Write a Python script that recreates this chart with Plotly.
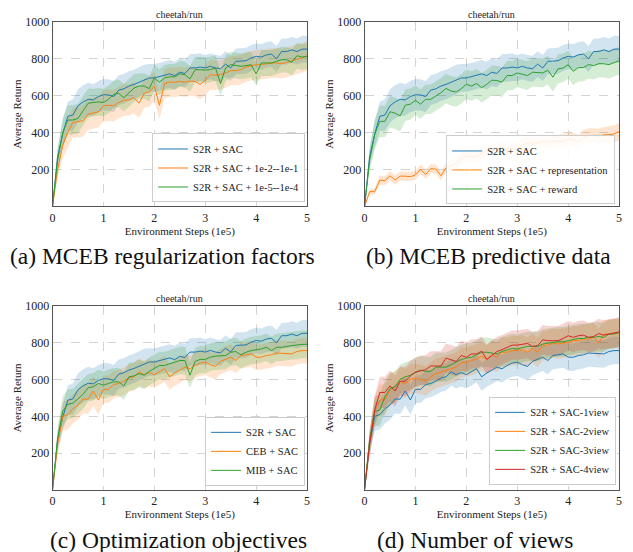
import plotly.graph_objects as go

steps = [0.0, 0.1, 0.2, 0.3, 0.4, 0.5, 0.6, 0.7, 0.8, 0.9, 1.0, 1.1, 1.2, 1.3, 1.4, 1.5, 1.6, 1.7, 1.8, 1.9,
         2.0, 2.1, 2.2, 2.3, 2.4, 2.5, 2.6, 2.7, 2.8, 2.9, 3.0, 3.1, 3.2, 3.3, 3.4, 3.5, 3.6, 3.7, 3.8, 3.9,
         4.0, 4.1, 4.2, 4.3, 4.4, 4.5, 4.6, 4.7, 4.8, 4.9, 5.0]

s2r_mean = [0, 270, 393, 488, 495, 545, 566, 580, 577, 595, 605, 604, 595, 630, 637, 652, 661, 673, 688, 696,
            696, 702, 711, 718, 709, 727, 720, 750, 750, 755, 750, 759, 750, 746, 771, 750, 786, 789, 789, 804,
            813, 809, 821, 825, 800, 839, 839, 848, 839, 852, 852]
s2r_std = [0, 50, 70, 80, 85, 90, 90, 90, 85, 85, 85, 85, 85, 80, 80, 80, 80, 80, 80, 75,
           75, 75, 75, 75, 75, 75, 75, 75, 75, 75, 70, 70, 70, 70, 70, 70, 70, 70, 70, 70,
           70, 70, 70, 70, 70, 70, 70, 70, 70, 72, 72]
reg_hi_mean = [0, 200, 330, 402, 455, 459, 464, 500, 505, 512, 545, 548, 545, 563, 575, 577, 589, 559, 613, 620,
               652, 548, 666, 673, 673, 677, 673, 679, 677, 661, 684, 714, 711, 714, 723, 736, 736, 741, 755, 763,
               768, 768, 773, 777, 777, 773, 780, 791, 798, 804, 816]
reg_hi_std = [0, 50, 70, 80, 80, 85, 85, 85, 85, 85, 85, 85, 85, 85, 85, 85, 85, 80, 80, 80,
              80, 75, 80, 80, 80, 80, 80, 80, 80, 80, 80, 80, 80, 80, 80, 80, 80, 80, 80, 80,
              80, 80, 80, 80, 80, 80, 80, 80, 80, 80, 80]
reg_lo_mean = [0, 250, 400, 468, 468, 477, 518, 559, 563, 566, 563, 580, 607, 613, 589, 613, 641, 652, 652, 638,
               696, 673, 696, 702, 702, 718, 714, 691, 741, 741, 738, 741, 750, 666, 750, 768, 763, 759, 763, 768,
               718, 777, 777, 777, 786, 795, 795, 780, 816, 809, 813]
reg_lo_std = [0, 60, 80, 80, 80, 80, 80, 80, 75, 75, 75, 75, 75, 75, 75, 75, 75, 70, 70, 70,
              70, 70, 70, 70, 70, 70, 70, 70, 70, 70, 70, 70, 70, 66, 70, 70, 70, 70, 70, 70,
              60, 70, 70, 70, 70, 70, 70, 70, 70, 70, 70]
rep_mean = [0, 80, 80, 143, 139, 166, 143, 164, 164, 161, 170, 202, 173, 205, 202, 166, 209, 223, 232, 259,
            271, 268, 268, 286, 304, 300, 316, 318, 309, 316, 309, 334, 343, 343, 343, 354, 348, 355, 352, 354,
            366, 363, 348, 375, 384, 384, 380, 388, 388, 393, 405]
rep_std = [0, 15, 20, 25, 25, 25, 25, 25, 25, 25, 25, 25, 25, 25, 25, 25, 25, 28, 28, 30,
           30, 30, 30, 30, 30, 30, 30, 30, 30, 30, 30, 32, 32, 32, 32, 35, 35, 35, 35, 35,
           35, 38, 38, 40, 40, 40, 42, 42, 45, 45, 48]
rew_mean = [0, 250, 390, 461, 461, 513, 505, 491, 548, 554, 575, 554, 580, 580, 598, 616, 639, 625, 620, 638,
            661, 652, 666, 643, 661, 684, 682, 673, 709, 709, 723, 718, 709, 727, 727, 723, 738, 700, 745, 750,
            768, 732, 752, 752, 768, 763, 773, 773, 768, 777, 789]
rew_std = [0, 60, 80, 85, 85, 85, 85, 85, 85, 85, 80, 80, 80, 80, 80, 80, 80, 80, 80, 80,
           80, 80, 80, 80, 80, 80, 80, 80, 80, 80, 78, 78, 78, 78, 78, 78, 78, 78, 78, 78,
           75, 75, 75, 75, 75, 75, 75, 75, 75, 75, 75]
ceb_mean = [0, 250, 400, 409, 441, 462, 495, 493, 538, 489, 547, 547, 573, 579, 591, 609, 615, 642, 627, 638,
            627, 642, 659, 615, 636, 651, 668, 659, 677, 690, 695, 681, 672, 699, 710, 722, 704, 731, 735, 740,
            722, 722, 731, 735, 745, 744, 744, 740, 753, 758, 758]
ceb_std = [0, 60, 80, 80, 80, 80, 80, 80, 80, 80, 75, 75, 75, 75, 75, 75, 75, 75, 75, 75,
           70, 70, 70, 70, 70, 70, 70, 70, 70, 70, 70, 70, 70, 70, 70, 70, 70, 70, 70, 70,
           70, 70, 70, 70, 70, 70, 70, 70, 70, 70, 70]
mib_mean = [0, 280, 427, 466, 471, 498, 520, 556, 561, 579, 570, 579, 588, 588, 565, 615, 620, 633, 624, 645,
            659, 677, 677, 686, 695, 704, 704, 624, 699, 710, 710, 722, 728, 728, 731, 749, 753, 735, 749, 758,
            762, 767, 776, 758, 776, 776, 781, 785, 788, 792, 792]
mib_std = [0, 60, 80, 80, 80, 80, 80, 75, 75, 75, 75, 75, 75, 75, 75, 75, 75, 75, 75, 75,
           75, 75, 75, 75, 75, 75, 75, 70, 75, 75, 75, 75, 75, 75, 75, 75, 75, 75, 75, 75,
           75, 75, 75, 75, 75, 75, 75, 75, 75, 75, 75]
v1_mean = ceb_mean
v1_std = [0, 60, 80, 80, 80, 80, 80, 80, 80, 80, 75, 75, 75, 75, 75, 75, 75, 75, 75, 75,
          75, 75, 75, 75, 75, 75, 75, 75, 75, 75, 75, 75, 75, 75, 75, 75, 75, 75, 75, 75,
          75, 75, 75, 75, 75, 75, 75, 75, 75, 75, 75]
v2_mean = [0, 270, 427, 489, 490, 543, 561, 588, 579, 602, 606, 602, 591, 615, 633, 642, 651, 659, 668, 692,
           695, 704, 713, 728, 710, 735, 722, 749, 749, 758, 758, 763, 749, 770, 749, 785, 788, 799, 794, 799,
           803, 812, 812, 821, 821, 830, 799, 848, 848, 853, 848]
v3_mean = [0, 270, 427, 434, 507, 552, 561, 602, 615, 624, 638, 651, 645, 645, 668, 668, 668, 681, 695, 710,
           717, 722, 735, 749, 749, 745, 740, 753, 763, 770, 767, 776, 781, 781, 781, 794, 799, 803, 806, 806,
           812, 821, 824, 824, 830, 830, 835, 830, 848, 848, 857]
v4_mean = [0, 250, 434, 530, 530, 566, 538, 591, 591, 620, 642, 649, 654, 674, 672, 674, 717, 710, 699, 731,
           722, 740, 740, 755, 710, 731, 753, 763, 776, 788, 788, 794, 797, 781, 785, 817, 812, 812, 812, 824,
           839, 830, 839, 842, 830, 835, 851, 842, 848, 857, 860]
vx_std = [0, 60, 80, 85, 85, 85, 85, 80, 80, 80, 80, 80, 80, 80, 80, 80, 80, 80, 80, 80,
          80, 80, 80, 80, 80, 80, 80, 80, 80, 80, 80, 80, 80, 80, 80, 80, 80, 80, 80, 80,
          80, 80, 80, 80, 80, 80, 80, 80, 80, 80, 80]

BLUE, ORANGE, GREEN, RED = "#1f77b4", "#ff7f0e", "#2ca02c", "#d62728"
FONT = "Liberation Serif"

panels = [
    ("x", "y", "legend", [("S2R + SAC", s2r_mean, s2r_std, BLUE),
                          ("S2R + SAC + 1e-2--1e-1", reg_hi_mean, reg_hi_std, ORANGE),
                          ("S2R + SAC + 1e-5--1e-4", reg_lo_mean, reg_lo_std, GREEN)]),
    ("x2", "y2", "legend2", [("S2R + SAC", s2r_mean, s2r_std, BLUE),
                             ("S2R + SAC + representation", rep_mean, rep_std, ORANGE),
                             ("S2R + SAC + reward", rew_mean, rew_std, GREEN)]),
    ("x3", "y3", "legend3", [("S2R + SAC", s2r_mean, s2r_std, BLUE),
                             ("CEB + SAC", ceb_mean, ceb_std, ORANGE),
                             ("MIB + SAC", mib_mean, mib_std, GREEN)]),
    ("x4", "y4", "legend4", [("S2R + SAC-1view", v1_mean, v1_std, BLUE),
                             ("S2R + SAC-2view", v2_mean, vx_std, ORANGE),
                             ("S2R + SAC-3view", v3_mean, vx_std, GREEN),
                             ("S2R + SAC-4view", v4_mean, vx_std, RED)]),
]

def rgba(hexc, a):
    h = hexc.lstrip("#")
    return "rgba(%d,%d,%d,%g)" % (int(h[0:2], 16), int(h[2:4], 16), int(h[4:6], 16), a)

fig = go.Figure()
for xa, ya, lg, series in panels:
    for name, m, s, c in series:
        up = [a + b for a, b in zip(m, s)]
        lo = [a - b for a, b in zip(m, s)]
        fig.add_trace(go.Scatter(x=steps, y=up, xaxis=xa, yaxis=ya, mode="lines", legend=lg,
                                 line=dict(width=0), showlegend=False, hoverinfo="skip"))
        fig.add_trace(go.Scatter(x=steps, y=lo, xaxis=xa, yaxis=ya, mode="lines", legend=lg,
                                 line=dict(width=0), fill="tonexty", fillcolor=rgba(c, 0.2),
                                 showlegend=False, hoverinfo="skip"))
    for name, m, s, c in series:
        fig.add_trace(go.Scatter(x=steps, y=m, xaxis=xa, yaxis=ya, mode="lines", name=name,
                                 line=dict(color=c, width=1), legend=lg))

W, H = 633, 552
boxes = {"a": (50, 307, 15, 202), "b": (365, 622, 15, 202),
         "c": (50, 307, 303, 489), "d": (365, 622, 303, 489)}
axis_names = [("xaxis", "yaxis", "x", "y", "a"), ("xaxis2", "yaxis2", "x2", "y2", "b"),
              ("xaxis3", "yaxis3", "x3", "y3", "c"), ("xaxis4", "yaxis4", "x4", "y4", "d")]

layout = dict(width=W, height=H, margin=dict(l=0, r=0, t=0, b=0),
              paper_bgcolor="white", plot_bgcolor="white",
              font=dict(family=FONT, color="#222"))
annotations = []
for xk, yk, xr, yr, key in axis_names:
    x0, x1, y0, y1 = boxes[key]
    layout[xk] = dict(domain=[x0 / W, x1 / W], range=[0, 5], anchor=yr,
                      tickvals=[0, 1, 2, 3, 4, 5], showgrid=True, gridcolor="#d3d3d3",
                      griddash="dash", gridwidth=0.8, zeroline=False, showline=True, mirror=True,
                      linecolor="#555", linewidth=1, ticks="", tickfont=dict(size=12),
                      title=dict(text="Environment Steps (1e5)", font=dict(size=11), standoff=1))
    layout[yk] = dict(domain=[1 - y1 / H, 1 - y0 / H], range=[0, 1000], anchor=xr,
                      tickvals=[200, 400, 600, 800, 1000], showgrid=True, gridcolor="#d3d3d3",
                      griddash="dash", gridwidth=0.8, zeroline=False, showline=True, mirror=True,
                      linecolor="#555", linewidth=1, ticks="", tickfont=dict(size=12),
                      title=dict(text="Average Return", font=dict(size=11), standoff=1))
    annotations.append(dict(text="cheetah/run", x=(x0 + x1) / 2 / W, y=1 - y0 / H, xref="paper", yref="paper",
                            xanchor="center", yanchor="bottom", showarrow=False, yshift=0,
                            font=dict(size=10)))

legpos = {"legend": (305, 198), "legend2": (618, 200), "legend3": (305, 485), "legend4": (619, 484)}
for lg, (rx, by) in legpos.items():
    layout[lg] = dict(x=rx / W, y=1 - by / H, xanchor="right", yanchor="bottom", xref="paper", yref="paper",
                      bgcolor="rgba(255,255,255,0.85)", bordercolor="#cccccc", borderwidth=1,
                      font=dict(size=10.5), itemwidth=30, tracegroupgap=0,
                      traceorder="normal")

captions = [("(a) MCEB regularization factors", 161, 252), ("(b) MCEB predictive data", 490, 252),
            ("(c) Optimization objectives", 177, 540), ("(d) Number of views", 477, 540)]
for t, cx, cy in captions:
    annotations.append(dict(text=t, x=cx / W, y=1 - cy / H, xref="paper", yref="paper",
                            xanchor="center", yanchor="middle", showarrow=False,
                            font=dict(size=23.5, color="#111")))
layout["annotations"] = annotations
fig.update_layout(**layout)
fig.write_html("out.html")
